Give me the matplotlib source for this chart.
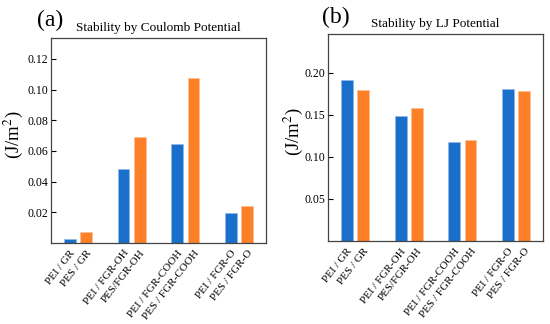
import numpy as np
import matplotlib
matplotlib.use("Agg")
import matplotlib.pyplot as plt

plt.rcParams['font.family'] = ['Liberation Serif', 'DejaVu Serif']
plt.rcParams['mathtext.fontset'] = 'stix'

# data
groups = ['GR', 'FGR-OH', 'FGR-COOH', 'FGR-O']
pei_labels = ['PEI / GR', 'PEI / FGR-OH', 'PEI / FGR-COOH', 'PEI / FGR-O']
pes_labels = ['PES / GR', 'PES/FGR-OH', 'PES / FGR-COOH', 'PES / FGR-O']

coulomb_pei = [0.0026, 0.0480, 0.0645, 0.0197]
coulomb_pes = [0.0072, 0.0693, 0.1077, 0.0241]
lj_pei = [0.191, 0.149, 0.1177, 0.181]
lj_pes = [0.1787, 0.1575, 0.120, 0.1784]

blue = '#1a6fca'
orange = '#fd7f28'

fig = plt.figure(figsize=(5.5, 3.24), dpi=100)
ax_a = fig.add_axes([0.0927, 0.25, 0.391, 0.633])
ax_b = fig.add_axes([0.5964, 0.256, 0.391, 0.639])

x = np.arange(len(groups))
w = 0.22
off = 0.15

def draw(ax, pei, pes, ylim, yticks, title, labx):
    ax.bar(x - off, pei, w, color=blue, edgecolor='#8fb8e6', linewidth=0.4)
    ax.bar(x + off, pes, w, color=orange, edgecolor='#fdbf94', linewidth=0.4)
    ax.set_xlim(-0.5, 3.5)
    ax.set_ylim(*ylim)
    ax.set_yticks(yticks)
    ax.set_yticklabels(['%.2f' % v for v in yticks], fontsize=8.5)
    pos = np.ravel(np.column_stack([x - off, x + off]))
    labs = [l for pair in zip(pei_labels, pes_labels) for l in pair]
    ax.set_xticks(pos)
    ax.set_xticklabels(labs, rotation=52, ha='right', rotation_mode='anchor', fontsize=8)
    ax.tick_params(axis='y', direction='in', length=3.5, width=0.8, pad=2)
    ax.tick_params(axis='x', length=0, pad=4)
    for s in ax.spines.values():
        s.set_color('#444444')
        s.set_linewidth(0.9)
    ax.set_title(title, fontsize=9.5, pad=5)
    ax.set_ylabel('(J/m$^2$)', fontsize=13.5)
    ax.yaxis.set_label_coords(labx, 0.53)

draw(ax_a, coulomb_pei, coulomb_pes, (0, 0.1337),
     [0.02, 0.04, 0.06, 0.08, 0.10, 0.12], 'Stability by Coulomb Potential', -0.12)
draw(ax_b, lj_pei, lj_pes, (0, 0.2457),
     [0.05, 0.10, 0.15, 0.20], 'Stability by LJ Potential', -0.105)

fig.text(50 / 550, 1 - 20 / 324, '(a)', fontsize=17, ha='center', va='center')
fig.text(336 / 550, 1 - 17 / 324, '(b)', fontsize=17, ha='center', va='center')

fig.savefig('out.png', dpi=100)
